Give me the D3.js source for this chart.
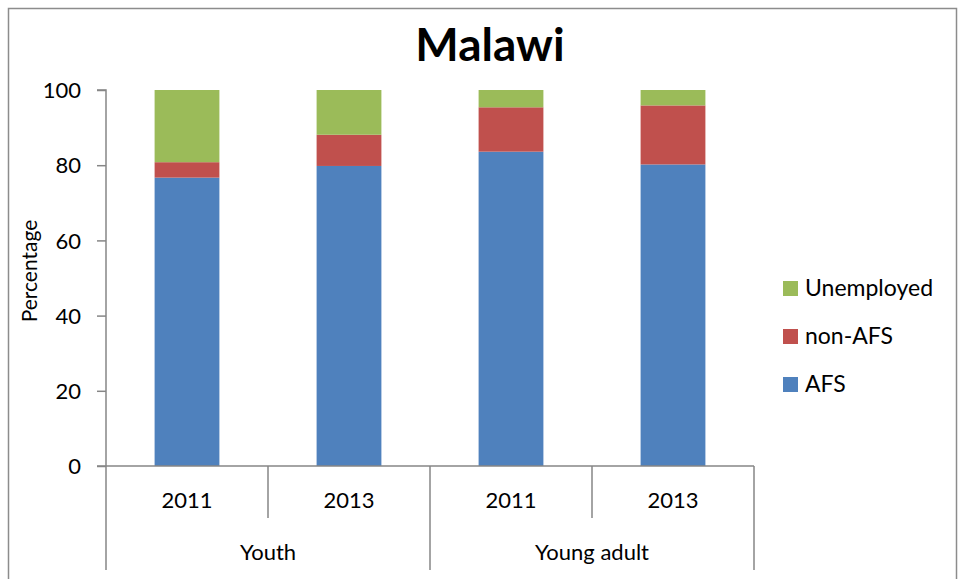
<!DOCTYPE html>
<html>
<head>
<meta charset="utf-8">
<script src="https://cdn.jsdelivr.net/npm/d3@7"></script>
<style>
  html, body { margin: 0; padding: 0; background: #fff; }
  svg { display: block; font-family: Lato, "DejaVu Sans", sans-serif; }
</style>
</head>
<body>
<svg id="chart" width="959" height="579"></svg>
<script>
// Employment status shares (percent), Malawi
const years = ["2011", "2013", "2011", "2013"];
const groups = ["Youth", "Young adult"];
const afs = [76.7, 79.8, 83.6, 80.2];
const nonAfs = [4.1, 8.3, 11.8, 15.7];
const unemployed = [19.2, 11.9, 4.6, 4.1];
const seriesNames = ["AFS", "non-AFS", "Unemployed"];
const seriesColors = ["#4F81BD", "#C0504D", "#9BBB59"];
const yTicks = [0, 20, 40, 60, 80, 100];

const rows = years.map((y, i) => ({
  key: i, year: y, group: groups[Math.floor(i / 2)],
  "AFS": afs[i], "non-AFS": nonAfs[i], "Unemployed": unemployed[i]
}));

const svg = d3.select("#chart");
const axisColor = "#868686";

// outer chart frame
svg.append("rect")
  .attr("x", 8.5).attr("y", 8.5)
  .attr("width", 948).attr("height", 600)
  .attr("fill", "none").attr("stroke", "#8c8c8c").attr("stroke-width", 1.5);

const plot = { left: 106, right: 754, top: 90, bottom: 466 };

const y = d3.scaleLinear().domain([0, 100]).range([plot.bottom, plot.top]);
const x = d3.scaleBand().domain(rows.map(d => d.key))
  .range([plot.left, plot.right]).paddingInner(0.6).paddingOuter(0.3);
const cell = d3.scaleBand().domain(rows.map(d => d.key))
  .range([plot.left, plot.right]);
const groupScale = d3.scaleBand().domain(groups).range([plot.left, plot.right]);

// title
svg.append("text")
  .attr("x", 490).attr("y", 61)
  .attr("text-anchor", "middle")
  .attr("font-size", 46).attr("font-weight", "bold")
  .attr("fill", "#000")
  .text("Malawi");

// stacked bars
const stack = d3.stack().keys(seriesNames);
const layers = stack(rows);
svg.append("g").selectAll("g")
  .data(layers)
  .join("g")
  .attr("fill", (d, i) => seriesColors[i])
  .selectAll("rect")
  .data(d => d)
  .join("rect")
  .attr("x", d => x(d.data.key))
  .attr("width", x.bandwidth())
  .attr("y", d => y(d[1]))
  .attr("height", d => y(d[0]) - y(d[1]));

// y axis
const yAxis = d3.axisLeft(y).tickValues(yTicks).tickSize(9).tickPadding(16);
const gy = svg.append("g")
  .attr("transform", `translate(${plot.left},0)`)
  .call(yAxis);
gy.select(".domain").attr("stroke", axisColor).attr("stroke-width", 1.5)
  .attr("d", `M-9,${plot.top}H0V${plot.bottom}`);
gy.selectAll(".tick line").attr("stroke", axisColor).attr("stroke-width", 1.5);
gy.selectAll(".tick text")
  .attr("font-size", 22).attr("fill", "#000")
  .attr("font-family", "Lato, sans-serif")
  .attr("dy", "0.35em");

// y axis title
svg.append("text")
  .attr("transform", `translate(37,271) rotate(-90)`)
  .attr("text-anchor", "middle")
  .attr("font-size", 21).attr("fill", "#000")
  .text("Percentage");

// x axis: baseline and category separators
const gx = svg.append("g");
gx.append("line")
  .attr("x1", plot.left - 9).attr("x2", plot.right)
  .attr("y1", plot.bottom).attr("y2", plot.bottom)
  .attr("stroke", axisColor).attr("stroke-width", 1.5);

const boundaries = rows.map(d => cell(d.key)).concat([plot.right]);
gx.selectAll("line.sep")
  .data(boundaries)
  .join("line")
  .attr("class", "sep")
  .attr("x1", d => d).attr("x2", d => d)
  .attr("y1", plot.bottom)
  .attr("y2", (d, i) => (i % 2 === 0 ? 570 : 518))
  .attr("stroke", axisColor).attr("stroke-width", 1.5);

// year labels
gx.selectAll("text.year")
  .data(rows)
  .join("text")
  .attr("class", "year")
  .attr("x", d => cell(d.key) + cell.bandwidth() / 2)
  .attr("y", 508)
  .attr("text-anchor", "middle")
  .attr("font-size", 22).attr("fill", "#000")
  .text(d => d.year);

// group labels
gx.selectAll("text.group")
  .data(groups)
  .join("text")
  .attr("class", "group")
  .attr("x", d => groupScale(d) + groupScale.bandwidth() / 2)
  .attr("y", 560)
  .attr("text-anchor", "middle")
  .attr("font-size", 22).attr("fill", "#000")
  .text(d => d);

// legend (top to bottom: Unemployed, non-AFS, AFS)
const legendItems = seriesNames.map((n, i) => ({ name: n, color: seriesColors[i] })).reverse();
const legend = svg.append("g").selectAll("g")
  .data(legendItems)
  .join("g")
  .attr("transform", (d, i) => `translate(783,${281 + i * 48})`);
legend.append("rect")
  .attr("width", 15).attr("height", 15)
  .attr("fill", d => d.color);
legend.append("text")
  .attr("x", 22).attr("y", 15)
  .attr("font-size", 23).attr("fill", "#000")
  .text(d => d.name);
</script>
</body>
</html>
